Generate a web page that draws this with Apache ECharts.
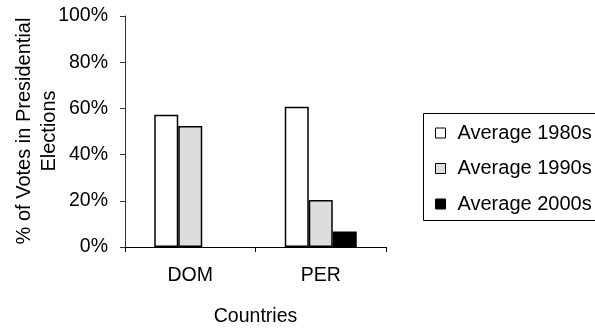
<!DOCTYPE html>
<html>
<head>
<meta charset="utf-8">
<script src="https://cdn.jsdelivr.net/npm/echarts@6/dist/echarts.min.js"></script>
<style>
  html, body { margin: 0; padding: 0; background: #fff; }
  #chart { width: 595px; height: 328px; }
</style>
</head>
<body>
<div id="chart"></div>
<script>
// Countries shown on the category axis
const countries = ['DOM', 'PER'];
// Share of votes in presidential elections, by decade (fraction of 1)
const avg1980s = [0.572, 0.607];
const avg1990s = [0.524, 0.204];
const avg2000s = [null, 0.067];
const seriesNames = ['Average 1980s', 'Average 1990s', 'Average 2000s'];
const seriesColors = ['#ffffff', '#dddddd', '#000000'];
const yTicks = [0, 0.2, 0.4, 0.6, 0.8, 1];

const FONT = '"Liberation Sans", Arial, sans-serif';
const chart = echarts.init(document.getElementById('chart'), null, { renderer: 'canvas' });

const seriesData = [avg1980s, avg1990s, avg2000s];

chart.setOption({
  animation: false,
  backgroundColor: '#ffffff',
  grid: { left: 125, right: 209, top: 16, bottom: 81, containLabel: false },
  xAxis: {
    type: 'category',
    data: countries,
    axisLine: { lineStyle: { color: '#000', width: 1 } },
    axisTick: { show: true, length: 5, inside: false, lineStyle: { color: '#000' } },
    axisLabel: { color: '#000', fontFamily: FONT, fontSize: 19.5, margin: 19 }
  },
  yAxis: {
    type: 'value',
    min: yTicks[0],
    max: yTicks[yTicks.length - 1],
    interval: 0.2,
    splitLine: { show: false },
    axisLine: { show: true, lineStyle: { color: '#333', width: 1 } },
    axisTick: { show: true, length: 5, lineStyle: { color: '#333' } },
    axisLabel: {
      color: '#000', fontFamily: FONT, fontSize: 19.5, margin: 17,
      formatter: v => Math.round(v * 100) + '%'
    }
  },
  legend: {
    orient: 'vertical',
    left: 430,
    top: 118,
    itemWidth: 10,
    itemHeight: 10,
    itemGap: 15.5,
    icon: 'rect',
    itemStyle: { borderColor: '#000', borderWidth: 1 },
    textStyle: { color: '#000', fontFamily: FONT, fontSize: 20, padding: [0, 0, 0, 7] },
    data: seriesNames
  },
  graphic: [
    {
      type: 'rect',
      shape: { x: 423.5, y: 113.5, width: 200, height: 107 },
      style: { fill: 'none', stroke: '#000', lineWidth: 1 },
      z: 0
    },
    {
      type: 'text',
      x: 37, y: 131,
      rotation: Math.PI / 2,
      style: {
        text: '% of Votes in Presidential\nElections',
        font: '20px ' + FONT,
        fill: '#000',
        textAlign: 'center',
        textVerticalAlign: 'middle',
        lineHeight: 25
      }
    },
    {
      type: 'text',
      x: 255.5, y: 317,
      style: {
        text: 'Countries',
        font: '19.5px ' + FONT,
        fill: '#000',
        textAlign: 'center',
        textVerticalAlign: 'middle'
      }
    }
  ],
  series: seriesNames.map((name, i) => ({
    name,
    type: 'bar',
    data: seriesData[i],
    barWidth: 24,
    barGap: '0%',
    itemStyle: { color: seriesColors[i], borderColor: '#000', borderWidth: 1.5 }
  }))
});
</script>
</body>
</html>
